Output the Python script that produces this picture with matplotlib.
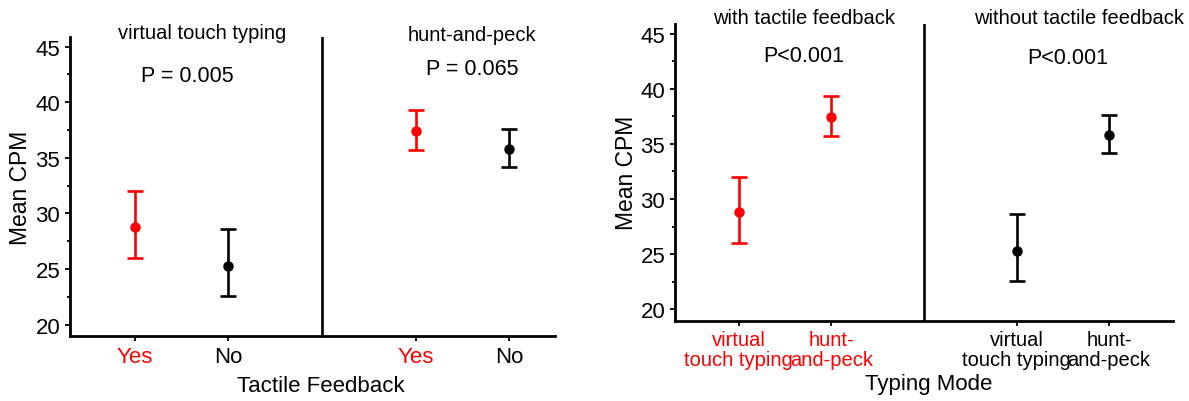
import matplotlib
matplotlib.use("Agg")
import matplotlib.pyplot as plt
from matplotlib.ticker import MultipleLocator

plt.rcParams["font.family"] = ["Liberation Sans", "DejaVu Sans"]

# data (Mean CPM with error bar ends)
modes = ["virtual touch typing", "hunt-and-peck"]
# order: (vtt, yes), (vtt, no), (hap, yes), (hap, no)
means = [28.8, 25.3, 37.4, 35.8]
upper = [32.0, 28.6, 39.3, 37.6]
lower = [26.0, 22.6, 35.7, 34.2]
tactile = ["Yes", "No", "Yes", "No"]
p_by_mode = ["P = 0.005", "P = 0.065"]
p_by_feedback = ["P<0.001", "P<0.001"]
feedback_titles = ["with tactile feedback", "without tactile feedback"]
mode_ticks = ["virtual\ntouch typing", "hunt-\nand-peck"]

RED = "#ff0000"
colors = {"Yes": RED, "No": "black"}


def style_axes(ax, xlim):
    ax.set_xlim(*xlim)
    ax.set_ylim(18.97, 45.87)
    ax.yaxis.set_major_locator(MultipleLocator(5))
    ax.yaxis.set_minor_locator(MultipleLocator(2.5))
    for side in ["top", "right"]:
        ax.spines[side].set_visible(False)
    for side in ["left", "bottom"]:
        ax.spines[side].set_linewidth(2.0)
    ax.tick_params(axis="both", which="major", length=3.5, width=1.3, labelsize=16)
    ax.tick_params(axis="y", which="minor", length=2, width=1.3)
    ax.axvline(3, color="black", lw=1.9)
    ax.set_ylabel("Mean CPM", fontsize=16.5)


def draw_point(ax, x, i, color):
    yerr = [[means[i] - lower[i]], [upper[i] - means[i]]]
    ax.errorbar([x], [means[i]], yerr=yerr, fmt="o", color=color, ms=6.5,
                elinewidth=1.9, capsize=5.5, capthick=1.9)


fig = plt.figure(figsize=(11.89, 4.02), dpi=100)
ax1 = fig.add_axes([0.0589, 0.1617, 0.4079, 0.7438])
ax2 = fig.add_axes([0.5677, 0.1998, 0.4188, 0.7380])

# left panel: grouped by typing mode, x = tactile feedback
style_axes(ax1, (0.31, 5.49))
pos1 = [1, 2, 4, 5]
for i, x in enumerate(pos1):
    draw_point(ax1, x, i, colors[tactile[i]])
ax1.set_xticks(pos1)
ax1.set_xticklabels(tactile)
for lab, t in zip(ax1.get_xticklabels(), tactile):
    lab.set_color(colors[t])
ax1.set_xlabel("Tactile Feedback", fontsize=16)
ax1.xaxis.set_label_coords(0.518, -0.13)
ax1.yaxis.set_label_coords(-0.078, 0.5)
ax1.text(1.72, 46.3, modes[0], ha="center", va="center", fontsize=14.5, clip_on=False)
ax1.text(4.6, 46.1, modes[1], ha="center", va="center", fontsize=14.5, clip_on=False)
ax1.text(1.56, 42.4, p_by_mode[0], ha="center", va="center", fontsize=15.5)
ax1.text(4.61, 43.0, p_by_mode[1], ha="center", va="center", fontsize=15.5)

# right panel: grouped by tactile feedback, x = typing mode
style_axes(ax2, (0.31, 5.69))
order = [0, 2, 1, 3]
pos2 = [1, 2, 4, 5]
for x, i in zip(pos2, order):
    draw_point(ax2, x, i, colors[tactile[i]])
ax2.set_xticks(pos2)
ax2.set_xticklabels(mode_ticks * 2, linespacing=1.05, fontsize=14.5)
for lab, i in zip(ax2.get_xticklabels(), order):
    lab.set_color(colors[tactile[i]])
ax2.set_xlabel("Typing Mode", fontsize=16)
ax2.xaxis.set_label_coords(0.51, -0.178)
ax2.yaxis.set_label_coords(-0.074, 0.503)
ax2.text(1.70, 46.47, feedback_titles[0], ha="center", va="center", fontsize=14.5, clip_on=False)
ax2.text(4.68, 46.47, feedback_titles[1], ha="center", va="center", fontsize=14.5, clip_on=False)
ax2.text(1.70, 43.0, p_by_feedback[0], ha="center", va="center", fontsize=15.5)
ax2.text(4.55, 42.85, p_by_feedback[1], ha="center", va="center", fontsize=15.5)

fig.savefig("out.png", dpi=100)
plt.close(fig)
